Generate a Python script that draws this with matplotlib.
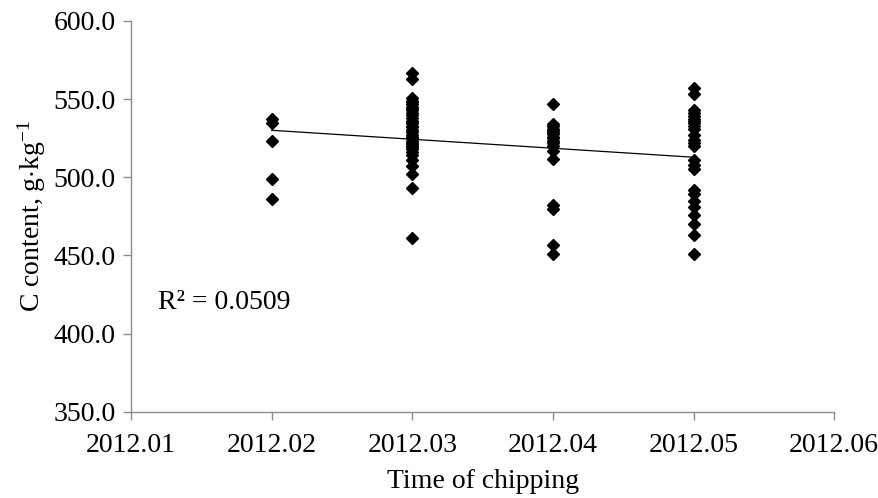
import numpy as np
import matplotlib
matplotlib.use('Agg')
import matplotlib.pyplot as plt

plt.rcParams['font.family'] = ['Liberation Serif', 'DejaVu Serif']
plt.rcParams['mathtext.fontset'] = 'custom'
plt.rcParams['mathtext.rm'] = 'Liberation Serif'
plt.rcParams['mathtext.it'] = 'Liberation Serif:italic'

## DATA
# carbon content (g/kg) of chips, grouped by month of chipping
c_feb = [537, 535, 523, 499, 486]
c_mar = [567, 563, 551, 549, 548, 547, 545, 544, 543, 541, 540, 538, 536,
         535, 533, 532, 530, 529, 527, 526, 525, 523, 522, 521, 520, 519,
         518, 516, 514, 511, 507, 502, 493, 461]
c_apr = [547, 534, 533, 531, 530, 529, 528, 526, 525, 523, 522, 520, 517,
         512, 482, 480, 457, 451]
c_may = [557, 553, 543, 541, 539, 537, 536, 535, 533, 531, 527, 524, 522,
         520, 511, 508, 505, 492, 489, 485, 481, 476, 470, 463, 451]
months = [2012.02, 2012.03, 2012.04, 2012.05]
r2_text = 'R² = 0.0509'

x_ticks = [2012.01, 2012.02, 2012.03, 2012.04, 2012.05, 2012.06]
y_ticks = [350, 400, 450, 500, 550, 600]

groups = [c_feb, c_mar, c_apr, c_may]
x = np.concatenate([[m] * len(g) for m, g in zip(months, groups)])
y = np.concatenate(groups).astype(float)

## PLOT
fig = plt.figure(figsize=(8.79, 4.98), dpi=100)
ax = fig.add_axes([0.149, 0.173, 0.8, 0.785])

ax.plot(x, y, linestyle='none', marker='D', markersize=6, color='black')

# linear trend line over the sampled months
coef = np.polyfit(x - 2012, y, 1)
xt = np.array([months[0], months[-1]])
ax.plot(xt, np.polyval(coef, xt - 2012), color='black', linewidth=0.9)

ax.text(2012.0119, 420, r2_text, fontsize=20, va='center', ha='left')

ax.set_xlim(2012.01, 2012.06)
ax.set_ylim(350, 600)
ax.set_xticks(x_ticks)
ax.set_xticklabels(['%.2f' % t for t in x_ticks])
ax.set_yticks(y_ticks)
ax.set_yticklabels(['%.1f' % t for t in y_ticks])

for side in ['top', 'right']:
    ax.spines[side].set_visible(False)
for side in ['left', 'bottom']:
    ax.spines[side].set_color('#8c8c8c')
    ax.spines[side].set_linewidth(1.0)
ax.tick_params(axis='both', colors='#8c8c8c', labelcolor='black',
               labelsize=20, length=6, width=1.0, direction='out')
ax.tick_params(axis='x', pad=9)
ax.tick_params(axis='y', pad=5)

ax.set_xlabel('Time of chipping', fontsize=20, labelpad=8)
ax.set_ylabel(r'C content, g$\cdot$kg$^{-1}$', fontsize=20, labelpad=4)

fig.savefig('out.png', dpi=100)
